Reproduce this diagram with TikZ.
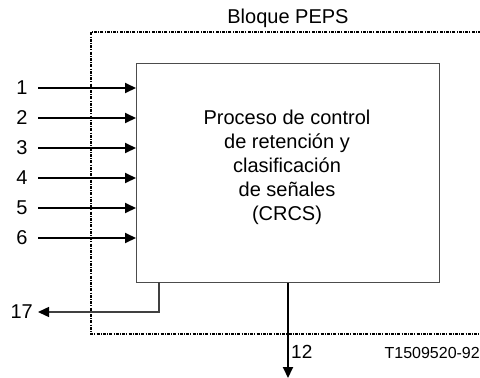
\documentclass[tikz,border=0pt]{standalone}
\usepackage{fontspec}
\setmainfont{Liberation Sans}
\usetikzlibrary{arrows.meta}
\begin{document}
\begin{tikzpicture}[x=1pt,y=-1pt,
  lbl/.style={font=\fontsize{20}{24}\selectfont, inner sep=0pt},
  sig/.style={line width=2pt, -{Triangle[length=11pt,width=10pt]}},
  thinsig/.style={line width=1.4pt, draw=black!75, -{Triangle[length=11pt,width=10pt,fill=black,color=black]}},
  blockline/.style={line width=1.4pt, dash pattern=on 3pt off 1.2pt on 1pt off 1.2pt}]
\useasboundingbox (0,0) rectangle (480,378);
% process box
\node[draw=black!70, line width=1.4pt, minimum width=303pt, minimum height=219pt, inner sep=0pt, anchor=north west] (crcs) at (136,63) {};
\node[lbl, align=center] (txt) at (287,167) {Proceso de control\\de retención y\\clasificación\\de señales\\(CRCS)};
% PEPS block boundary
\draw[blockline] (481,32) -- (91,32) -- (91,334) -- (481,334);
\node[lbl] (peps) at (288,18) {Bloque PEPS};
% inputs
\foreach \i/\y in {1/88,2/118,3/148,4/178,5/208,6/238}{
  \node[lbl] (in\i) at (22,\y) {\i};
  \coordinate (s\i) at (38,\y);
  \draw[sig] (s\i) -- (s\i -| crcs.west);
}
% output 17
\coordinate (o17a) at (159,282);
\coordinate (o17b) at (159,312);
\node[lbl, anchor=east] (out17) at (33,312) {17};
\draw[thinsig, shorten >=5pt] (o17a) -- (o17b) -- (out17.east);
% output 12
\coordinate (o12) at (288,378);
\draw[sig] (crcs.south -| o12) -- (o12);
\node[lbl, font=\fontsize{19}{22}\selectfont, anchor=west] (l12) at (291,352) {12};
\node[font=\fontsize{16}{19}\selectfont, inner sep=0pt, anchor=east] (ref) at (480,353) {T1509520-92};
\end{tikzpicture}
\end{document}
